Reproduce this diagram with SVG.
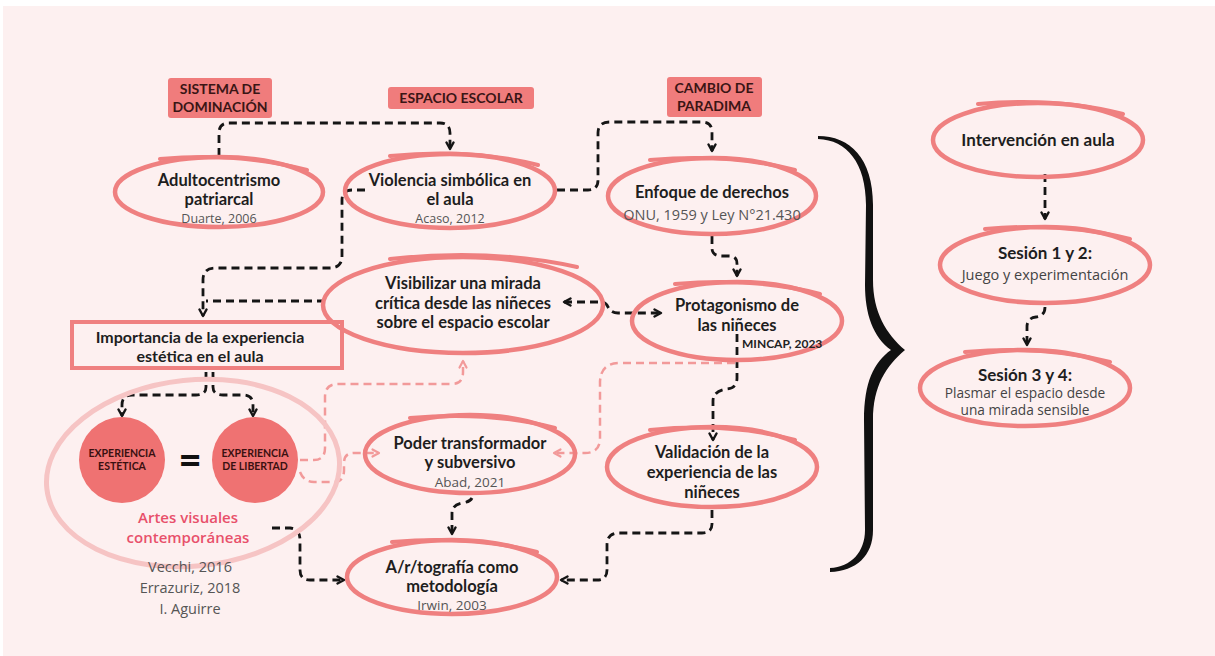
<svg xmlns="http://www.w3.org/2000/svg" width="1215" height="656" viewBox="0 0 1215 656">
<style>
.bg{fill:#fdf0f0}
.ov{fill:none;stroke:#ef8080;stroke-width:4.5}
.tail{fill:none;stroke:#ef8080;stroke-width:4;stroke-linecap:round}
.t{font-family:Lato,"Noto Sans",sans-serif;font-weight:700;font-size:16.5px;fill:#1e1e1e;text-anchor:middle}
.c{font-family:"Open Sans","Noto Sans",sans-serif;font-size:13px;fill:#555;text-anchor:middle}
.lb{fill:#f07c7c}
.lt{font-family:Lato,"Noto Sans",sans-serif;font-weight:700;font-size:14px;fill:#3a1515;text-anchor:middle}
.conn{fill:none;stroke:#151515;stroke-width:2.8;stroke-dasharray:8 5}
.pconn{fill:none;stroke:#f29a9a;stroke-width:2.5;stroke-dasharray:8 5}
.circ{fill:#ef7272}
.ct{font-family:Lato,"Noto Sans",sans-serif;font-weight:700;font-size:10.5px;fill:#3a1010;text-anchor:middle}
</style>
<defs>
<marker id="ah" viewBox="0 0 10 10" refX="8" refY="5" markerWidth="10" markerHeight="10" markerUnits="userSpaceOnUse" orient="auto-start-reverse">
<path d="M1.5,1.5 L8,5 L1.5,8.5" fill="none" stroke="#151515" stroke-width="2.4" stroke-linecap="round" stroke-linejoin="round"/>
</marker>
<marker id="ahp" viewBox="0 0 10 10" refX="8" refY="5" markerWidth="10" markerHeight="10" markerUnits="userSpaceOnUse" orient="auto">
<path d="M1.5,1.5 L8,5 L1.5,8.5" fill="none" stroke="#f29a9a" stroke-width="2.2" stroke-linecap="round" stroke-linejoin="round"/>
</marker>
</defs>
<rect x="0" y="0" width="1215" height="656" fill="#ffffff"/>
<rect class="bg" x="3" y="6" width="1212" height="650"/>

<g id="connectors">
<path class="conn" d="M219,156 V133 Q219,123 229,123 H440 Q450,123 450,133 V149" marker-end="url(#ah)"/>
<path class="conn" d="M365,190 H352 Q342,190 342,200 V256 Q342,268 330,268 H215 Q203,268 203,280 V316" marker-end="url(#ah)"/>
<path class="conn" d="M325,301 H206"/>
<path class="conn" d="M557,190 H588 Q598,190 598,180 V133 Q598,122 610,122 H702 Q712,122 712,132 V151" marker-end="url(#ah)"/>
<path class="conn" d="M712,236 V248 Q712,256 722,256 H729 Q737,256 737,264 V276" marker-end="url(#ah)"/>
<path class="conn" d="M564,302 H600 Q606,302 608,307 Q611,313 618,313 H661" marker-start="url(#ah)" marker-end="url(#ah)"/>
<path class="conn" d="M737,334 V378 Q737,388 727,389 Q713,391 713,401 V440" marker-end="url(#ah)"/>
<path class="conn" d="M712,510 V524 Q712,533 702,533 H619 Q607,533 607,545 V570 Q607,580 597,580 H561" marker-end="url(#ah)"/>
<path class="conn" d="M472,498 Q470,502 462,503 Q452,505 452,513 V534" marker-end="url(#ah)"/>
<path class="conn" d="M272,528 H290 Q300,529 300,540 V570 Q300,580 310,580 H344" marker-end="url(#ah)"/>
<path class="conn" d="M206,372 V387 Q206,395 196,395 H132 Q122,395 122,405 V416" marker-end="url(#ah)"/>
<path class="conn" d="M213,372 V387 Q213,395 223,395 H243 Q253,395 253,405 V416" marker-end="url(#ah)"/>
<path class="conn" d="M1045,174 V219" marker-end="url(#ah)"/>
<path class="conn" d="M1045,307 Q1045,316 1036,317 Q1027,318 1027,327 V345" marker-end="url(#ah)"/>
<path class="pconn" d="M300,460 H314 Q325,460 325,448 V397 Q325,384 338,384 H452 Q463,384 463,372 V361" marker-end="url(#ahp)"/>
<path class="pconn" d="M300,472 Q304,482 314,482 H334 Q344,482 344,470 V463 Q344,453 354,453 H379" marker-end="url(#ahp)"/>
<path class="pconn" d="M735,363 H620 Q600,363 600,383 V438 Q600,453 585,453 H554" marker-end="url(#ahp)"/>
</g>

<g id="brace">
<path d="M818,136 C850,136 873,158 873,205 L873,280 C873,312 886,334 905,350 C886,366 873,386 873,420 L873,530 C873,556 856,571 830,572 L830,568 C851,567 865,552 865,530 L864,420 C864,382 874,362 891,350 C873,337 865,314 865,285 L866,205 C866,163 847,140 818,139 Z" fill="#111"/>
</g>

<g id="lbl-sistema">
<rect class="lb" x="168" y="78" width="104" height="40" rx="3"/>
<text class="lt" x="220" y="94">SISTEMA DE</text>
<text class="lt" x="220" y="112">DOMINACIÓN</text>
</g>
<g id="lbl-espacio">
<rect class="lb" x="388" y="87" width="146" height="22" rx="3"/>
<text class="lt" x="461" y="103">ESPACIO ESCOLAR</text>
</g>
<g id="lbl-cambio">
<rect class="lb" x="667" y="77" width="95" height="40" rx="3"/>
<text class="lt" x="714" y="93">CAMBIO DE</text>
<text class="lt" x="714" y="111">PARADIMA</text>
</g>

<g id="n-adulto">
<ellipse class="ov" cx="219" cy="192" rx="104" ry="35"/>
<path class="tail" d="M160,159 Q240,152 307,170"/>
<text class="t" x="219" y="186">Adultocentrismo</text>
<text class="t" x="219" y="205">patriarcal</text>
<text class="c" x="219" y="223" style="font-size:12.5px">Duarte, 2006</text>
</g>
<g id="n-violencia">
<ellipse class="ov" cx="450" cy="191" rx="105" ry="37"/>
<path class="tail" d="M390,156 Q470,148 538,165"/>
<text class="t" x="450" y="186">Violencia simbólica en</text>
<text class="t" x="450" y="205">el aula</text>
<text class="c" x="450" y="223" style="font-size:12.5px">Acaso, 2012</text>
</g>
<g id="n-enfoque">
<ellipse class="ov" cx="712" cy="196" rx="104" ry="38"/>
<path class="tail" d="M650,160 Q730,153 795,170"/>
<text class="t" x="712" y="198">Enfoque de derechos</text>
<text class="c" x="712" y="220" style="font-size:14.5px">ONU, 1959 y Ley N°21.430</text>
</g>
<g id="n-importancia">
<rect x="72" y="322" width="270" height="46" fill="none" stroke="#ef8080" stroke-width="4"/>
<text class="t" x="200" y="343" style="font-size:16px">Importancia de la experiencia</text>
<text class="t" x="200" y="362" style="font-size:16px">estética en el aula</text>
</g>
<g id="n-visibilizar">
<ellipse class="ov" cx="463" cy="305" rx="140" ry="48"/>
<path class="tail" d="M390,259 Q490,248 577,267"/>
<text class="t" x="463" y="289">Visibilizar una mirada</text>
<text class="t" x="463" y="309">crítica desde las niñeces</text>
<text class="t" x="463" y="328">sobre el espacio escolar</text>
</g>
<g id="n-protagonismo">
<ellipse class="ov" cx="737" cy="321" rx="105" ry="39"/>
<path class="tail" d="M675,284 Q755,277 820,294"/>
<text class="t" x="737" y="311">Protagonismo de</text>
<text class="t" x="737" y="331">las niñeces</text>
<text x="742" y="348" style="font-family:Lato,'Noto Sans',sans-serif;font-weight:700;font-size:12px;fill:#222">MINCAP, 2023</text>
</g>
<g id="n-artes">
<ellipse cx="193" cy="473" rx="147" ry="93" transform="rotate(-6 193 473)" fill="none" stroke="#f6c4c4" stroke-width="5"/>
<circle class="circ" cx="122" cy="460" r="43"/>
<circle class="circ" cx="255" cy="460" r="43"/>
<text class="ct" x="122" y="457">EXPERIENCIA</text>
<text class="ct" x="122" y="470">ESTÉTICA</text>
<text class="ct" x="255" y="457">EXPERIENCIA</text>
<text class="ct" x="255" y="470">DE LIBERTAD</text>
<text x="190" y="474" style="font-family:Lato,sans-serif;font-weight:900;font-size:40px;fill:#111;text-anchor:middle">=</text>
<text x="188" y="523" style="font-family:'Open Sans',sans-serif;font-weight:600;font-size:15px;fill:#e8506b;text-anchor:middle">Artes visuales</text>
<text x="188" y="543" style="font-family:'Open Sans',sans-serif;font-weight:600;font-size:15px;fill:#e8506b;text-anchor:middle">contemporáneas</text>
<text class="c" x="190" y="572" style="font-size:14.5px">Vecchi, 2016</text>
<text class="c" x="190" y="593" style="font-size:14.5px">Errazuriz, 2018</text>
<text class="c" x="190" y="614" style="font-size:14.5px">I. Aguirre</text>
</g>
<g id="n-poder">
<ellipse class="ov" cx="470" cy="454" rx="105" ry="39"/>
<path class="tail" d="M410,418 Q490,411 555,428"/>
<text class="t" x="470" y="449">Poder transformador</text>
<text class="t" x="470" y="468">y subversivo</text>
<text class="c" x="470" y="487" style="font-size:13.5px">Abad, 2021</text>
</g>
<g id="n-validacion">
<ellipse class="ov" cx="712" cy="467" rx="105" ry="40"/>
<path class="tail" d="M650,430 Q730,422 795,440"/>
<text class="t" x="712" y="458">Validación de la</text>
<text class="t" x="712" y="478">experiencia de las</text>
<text class="t" x="712" y="498">niñeces</text>
</g>
<g id="n-artografia">
<ellipse class="ov" cx="452" cy="577" rx="105" ry="37"/>
<path class="tail" d="M392,542 Q472,535 537,552"/>
<text class="t" x="452" y="573">A/r/tografía como</text>
<text class="t" x="452" y="592">metodología</text>
<text class="c" x="452" y="610" style="font-size:13.5px">Irwin, 2003</text>
</g>
<g id="n-intervencion">
<ellipse class="ov" cx="1038" cy="140" rx="105" ry="37"/>
<path class="tail" d="M978,104 Q1058,97 1123,114"/>
<text class="t" x="1038" y="146" style="font-size:17px">Intervención en aula</text>
</g>
<g id="n-sesion12">
<ellipse class="ov" cx="1045" cy="265" rx="105" ry="38"/>
<path class="tail" d="M985,229 Q1065,222 1130,239"/>
<text class="t" x="1045" y="259" style="font-size:17px">Sesión 1 y 2:</text>
<text class="c" x="1045" y="280" style="font-size:14.5px;fill:#444">Juego y experimentación</text>
</g>
<g id="n-sesion34">
<ellipse class="ov" cx="1025" cy="388" rx="105" ry="38"/>
<path class="tail" d="M965,352 Q1045,345 1110,362"/>
<text class="t" x="1025" y="381" style="font-size:17px">Sesión 3 y 4:</text>
<text class="c" x="1025" y="398" style="font-size:13.7px;fill:#444">Plasmar el espacio desde</text>
<text class="c" x="1025" y="415" style="font-size:13.7px;fill:#444">una mirada sensible</text>
</g>
</svg>
